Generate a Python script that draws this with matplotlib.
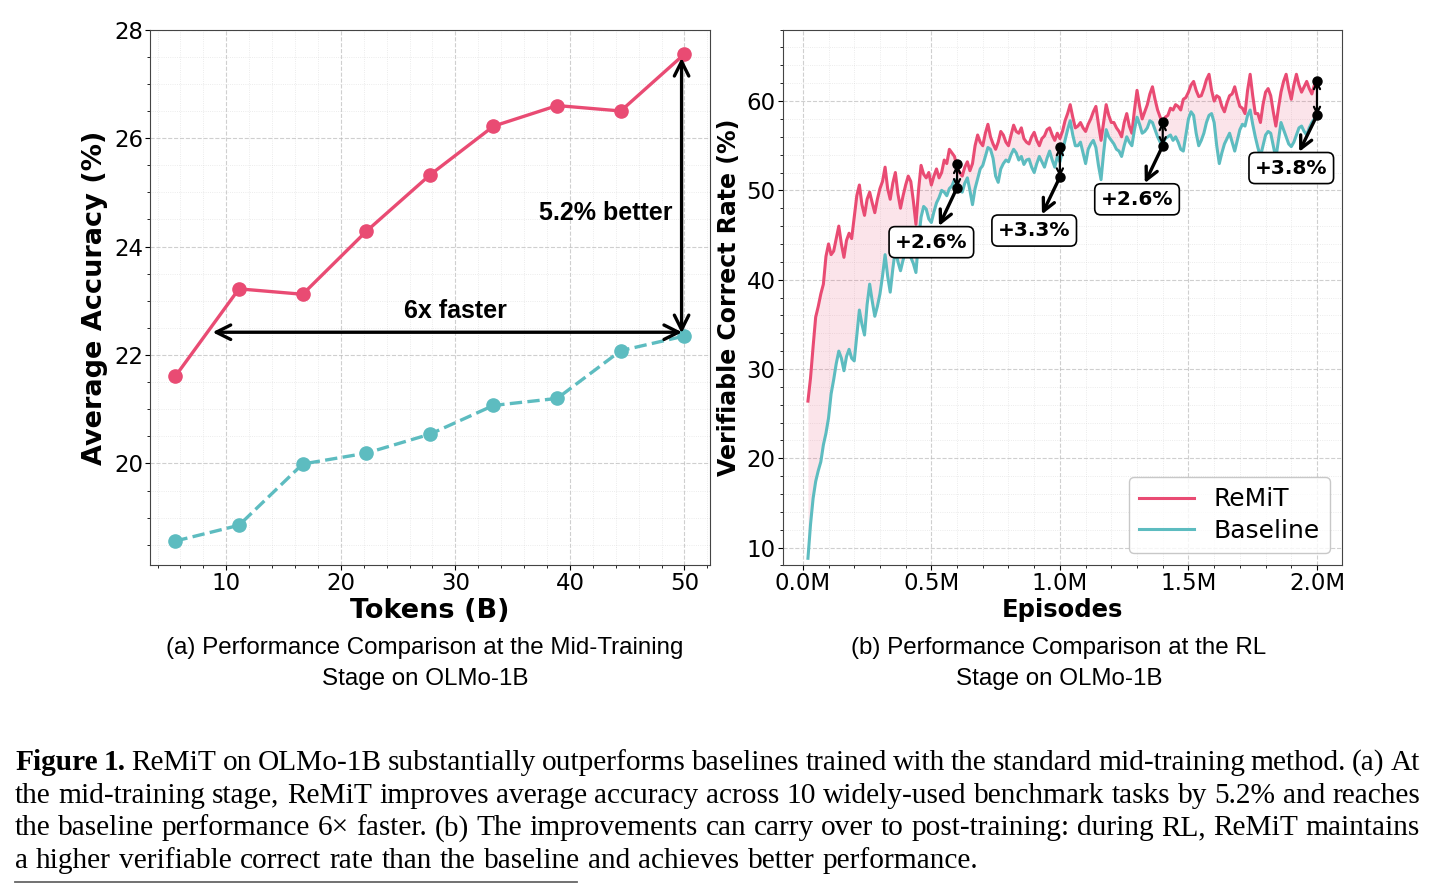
import numpy as np
import matplotlib
matplotlib.use("Agg")
import matplotlib.pyplot as plt
from matplotlib.ticker import FuncFormatter
from matplotlib.lines import Line2D

RED = "#E94B73"
TEAL = "#5DBCC0"

# (a) mid-training stage
tokens = [5.56, 11.11, 16.67, 22.22, 27.78, 33.33, 38.89, 44.44, 50.0]
remit_acc = [21.61, 23.22, 23.12, 24.28, 25.32, 26.22, 26.60, 26.50, 27.55]
base_acc = [18.57, 18.86, 19.99, 20.19, 20.54, 21.07, 21.20, 22.08, 22.35]

# (b) RL stage, read every 0.01M episodes from 0.02M to 2.00M
remit_rl = [26.4, 29.0, 32.5, 35.8, 37.0, 38.4, 39.5, 42.6, 44.0, 42.8,
            43.2, 44.6, 46.0, 44.0, 42.5, 44.4, 45.2, 44.6, 47.0, 49.4,
            50.6, 48.4, 47.2, 49.0, 49.8, 48.6, 47.5, 49.0, 50.2, 51.0,
            52.6, 50.2, 49.0, 50.8, 52.0, 49.6, 48.0, 49.4, 50.6, 51.6,
            51.0, 48.8, 46.2, 50.0, 52.8, 51.8, 51.4, 52.0, 50.6, 51.6,
            52.4, 51.4, 52.0, 53.4, 53.0, 54.6, 54.2, 53.8, 52.6, 52.0,
            51.6, 52.6, 53.2, 52.2, 53.0, 55.0, 56.2, 55.4, 55.0, 56.4,
            57.4, 56.0, 55.2, 54.6, 55.4, 56.6, 56.2, 55.4, 55.0, 56.2,
            57.3, 56.6, 56.4, 57.0, 55.8, 55.4, 55.2, 56.0, 56.5, 55.6,
            55.0, 55.8, 56.1, 56.8, 57.0, 56.2, 55.6, 56.4, 55.8, 56.6,
            57.8, 58.6, 59.6, 58.2, 57.0, 57.2, 57.6, 57.0, 56.6, 57.4,
            58.0, 58.8, 59.4, 57.4, 55.6, 57.6, 59.6, 58.4, 57.6, 57.6,
            57.0, 56.6, 56.0, 57.6, 58.6, 57.2, 56.4, 59.0, 61.2, 59.4,
            58.0, 58.8, 59.6, 60.8, 61.6, 60.2, 59.0, 58.2, 57.6, 58.2,
            58.4, 59.2, 59.0, 59.6, 59.4, 59.0, 60.2, 60.4, 61.0, 61.8,
            62.2, 61.2, 60.5, 60.6, 61.4, 62.4, 63.0, 61.2, 60.0, 60.6,
            60.4, 59.4, 58.8, 59.8, 60.6, 60.8, 61.6, 60.4, 59.4, 59.2,
            58.6, 61.2, 63.0, 60.6, 58.6, 58.6, 57.6, 59.6, 61.0, 61.4,
            60.6, 58.8, 57.2, 59.2, 61.0, 62.2, 63.0, 61.4, 60.2, 61.8,
            63.0, 61.8, 61.0, 61.6, 62.2, 61.4, 60.8, 61.8, 62.3]
base_rl = [8.8, 12.6, 15.5, 17.4, 18.6, 19.6, 21.5, 22.8, 24.5, 27.2,
           28.8, 30.6, 32.0, 31.2, 29.8, 31.4, 32.2, 31.2, 30.9, 33.8,
           36.6, 35.0, 33.8, 37.2, 39.5, 37.6, 35.9, 37.0, 38.4, 40.4,
           42.8, 40.4, 38.6, 41.2, 43.4, 42.0, 41.0, 42.2, 43.2, 43.8,
           42.5, 41.8, 40.8, 44.4, 47.0, 48.2, 47.9, 46.8, 46.4, 47.6,
           48.6, 49.2, 50.0, 49.8, 49.4, 50.2, 50.5, 51.2, 51.0, 50.4,
           49.8, 50.8, 51.4, 50.0, 48.4, 50.2, 51.3, 52.4, 52.8, 53.8,
           54.8, 54.6, 53.6, 51.6, 50.9, 52.4, 53.0, 53.4, 53.2, 54.0,
           54.6, 54.2, 53.4, 53.8, 52.9, 53.4, 53.5, 52.6, 52.0, 53.0,
           53.8, 53.2, 52.6, 53.6, 54.4, 53.4, 52.6, 53.8, 53.2, 54.4,
           55.6, 56.8, 57.8, 56.2, 55.0, 55.0, 55.4, 54.2, 53.0, 54.6,
           55.2, 55.6, 54.8, 52.8, 51.2, 54.2, 56.8, 56.0, 55.6, 55.2,
           54.6, 54.4, 53.8, 55.0, 56.0, 55.4, 55.0, 56.8, 58.2, 57.4,
           56.4, 56.6, 57.0, 57.8, 57.6, 56.8, 56.0, 55.4, 55.2, 55.8,
           56.0, 56.2, 55.6, 56.0, 55.4, 54.6, 54.4, 56.2, 58.0, 58.8,
           58.4, 56.4, 55.0, 55.6, 56.4, 57.6, 58.4, 58.6, 57.6, 55.0,
           53.0, 54.2, 55.2, 55.8, 56.4, 55.4, 54.4, 55.6, 56.8, 57.4,
           57.2, 58.4, 59.0, 57.4, 56.0, 54.8, 53.8, 55.0, 56.2, 56.6,
           56.4, 55.0, 53.6, 55.6, 57.6, 56.8, 56.0, 55.2, 54.9, 55.4,
           56.2, 57.0, 57.2, 56.6, 56.2, 57.0, 57.6, 58.0, 58.4]
episodes = np.round(0.02 + 0.01 * np.arange(len(remit_rl)), 2)

ann_x = [0.6, 1.0, 1.4, 2.0]
ann_remit = [52.9, 54.9, 57.7, 62.3]
ann_base = [50.3, 51.5, 55.0, 58.4]
ann_labels = ["+2.6%", "+3.3%", "+2.6%", "+3.8%"]
ann_box = [(0.50, 44.2), (0.90, 45.5), (1.30, 49.0), (1.90, 52.5)]

fig = plt.figure(figsize=(14.35, 8.9), dpi=100)
ax1 = fig.add_axes([0.1045, 0.3647, 0.3902, 0.602])
ax2 = fig.add_axes([0.5453, 0.3647, 0.3902, 0.602])

for ax in (ax1, ax2):
    ax.minorticks_on()
    ax.grid(which="major", ls="--", lw=0.8, color="#bbbbbb", alpha=0.7)
    ax.grid(which="minor", ls=":", lw=0.6, color="#cccccc", alpha=0.5)
    ax.set_axisbelow(True)
    for s in ax.spines.values():
        s.set_color("#444444")
    ax.tick_params(labelsize=16.5, pad=1.5)

# ---- (a)
ax1.plot(tokens, remit_acc, color=RED, lw=2.4, marker="o", ms=9.5, label="ReMiT")
ax1.plot(tokens, base_acc, color=TEAL, lw=2.4, ls="--", marker="o", ms=9.5, label="Baseline")
ax1.set_ylim(18.12, 28.0)
ax1.set_xlabel("Tokens (B)", fontsize=19.5, fontweight="bold", labelpad=2)
ax1.set_ylabel("Average Accuracy (%)", fontsize=19.5, fontweight="bold")

arr = dict(arrowstyle="<->", lw=2.4, color="black", mutation_scale=26,
           shrinkA=0, shrinkB=0)
ax1.annotate("", xy=(8.8, 22.42), xytext=(49.8, 22.42), arrowprops=arr)
ax1.annotate("", xy=(49.75, 27.48), xytext=(49.75, 22.40), arrowprops=arr)
ax1.text(30.0, 22.82, "6x faster", ha="center", va="center", fontsize=18,
         fontweight="bold", family="Liberation Sans")
ax1.text(43.1, 24.62, "5.2% better", ha="center", va="center", fontsize=18,
         fontweight="bold", family="Liberation Sans")

# ---- (b)
ax2.plot(episodes, remit_rl, color=RED, lw=2.2, label="ReMiT")
ax2.plot(episodes, base_rl, color=TEAL, lw=2.2, label="Baseline")
ax2.fill_between(episodes, base_rl, remit_rl, color=RED, alpha=0.15, lw=0)
ax2.set_ylim(8, 68)
ax2.xaxis.set_major_formatter(FuncFormatter(lambda v, p: f"{v:.1f}M"))
ax2.set_xlabel("Episodes", fontsize=17.5, fontweight="bold", labelpad=2)
ax2.set_ylabel("Verifiable Correct Rate (%)", fontsize=17, fontweight="bold")

for x, r, b, lab, (bx, by) in zip(ann_x, ann_remit, ann_base, ann_labels, ann_box):
    ax2.annotate("", xy=(x, r), xytext=(x, b),
                 arrowprops=dict(arrowstyle="<->", lw=1.6, color="black",
                                 mutation_scale=11, shrinkA=0, shrinkB=0))
    ax2.plot([x, x], [r, b], ls="none", marker="o", ms=6.5, color="black", zorder=5)
    ax2.annotate(lab, xy=(x, b), xytext=(bx, by), ha="center", va="center",
                 fontsize=14.5, fontweight="bold",
                 bbox=dict(boxstyle="round,pad=0.3", fc="white", ec="black", lw=1.2),
                 arrowprops=dict(arrowstyle="<-", lw=2.4, color="black",
                                 mutation_scale=22, shrinkA=0, shrinkB=0))

leg = ax2.legend(loc="lower right", fontsize=18, labelspacing=0.3,
                 handlelength=2.2, fancybox=True)
leg.get_frame().set_edgecolor("#bbbbbb")

# sub-captions
fig.text(0.296, 0.2545, "(a) Performance Comparison at the Mid-Training\nStage on OLMo-1B",
         ha="center", va="center", fontsize=17.4, family="Liberation Sans",
         linespacing=1.5)
fig.text(0.738, 0.2545, "(b) Performance Comparison at the RL\nStage on OLMo-1B",
         ha="center", va="center", fontsize=17.4, family="Liberation Sans",
         linespacing=1.5)

# figure caption, justified line by line
W, H = 1435, 890
lines = [
    [("Figure", "bold"), ("1.", "bold")] + [(w, "normal") for w in
        "ReMiT on OLMo-1B substantially outperforms baselines trained with the standard mid-training method. (a) At".split()],
    [(w, "normal") for w in
        "the mid-training stage, ReMiT improves average accuracy across 10 widely-used benchmark tasks by 5.2% and reaches".split()],
    [(w, "normal") for w in
        "the baseline performance 6× faster. (b) The improvements can carry over to post-training: during RL, ReMiT maintains".split()],
    [(w, "normal") for w in
        "a higher verifiable correct rate than the baseline and achieves better performance.".split()],
]
x_left = 15
line_right = [1420, 1420, 1420, 978]
baselines = [770, 802.7, 835.4, 868]
renderer = fig.canvas.get_renderer()
for words, yb, xr in zip(lines, baselines, line_right):
    texts = []
    for w, wt in words:
        t = fig.text(0, 1 - yb / H, w, fontsize=21.2, family="Liberation Serif",
                     fontweight=wt, va="baseline", ha="left")
        texts.append(t)
    widths = [t.get_window_extent(renderer).width for t in texts]
    gap = (xr - x_left - sum(widths)) / (len(texts) - 1)
    x = x_left
    for t, wd in zip(texts, widths):
        t.set_x(x / W)
        x += wd + gap

fig.add_artist(Line2D([15 / W, 577 / W], [1 - 882 / H, 1 - 882 / H],
                      color="#666666", lw=1.3))

fig.savefig("out.png", dpi=100)
